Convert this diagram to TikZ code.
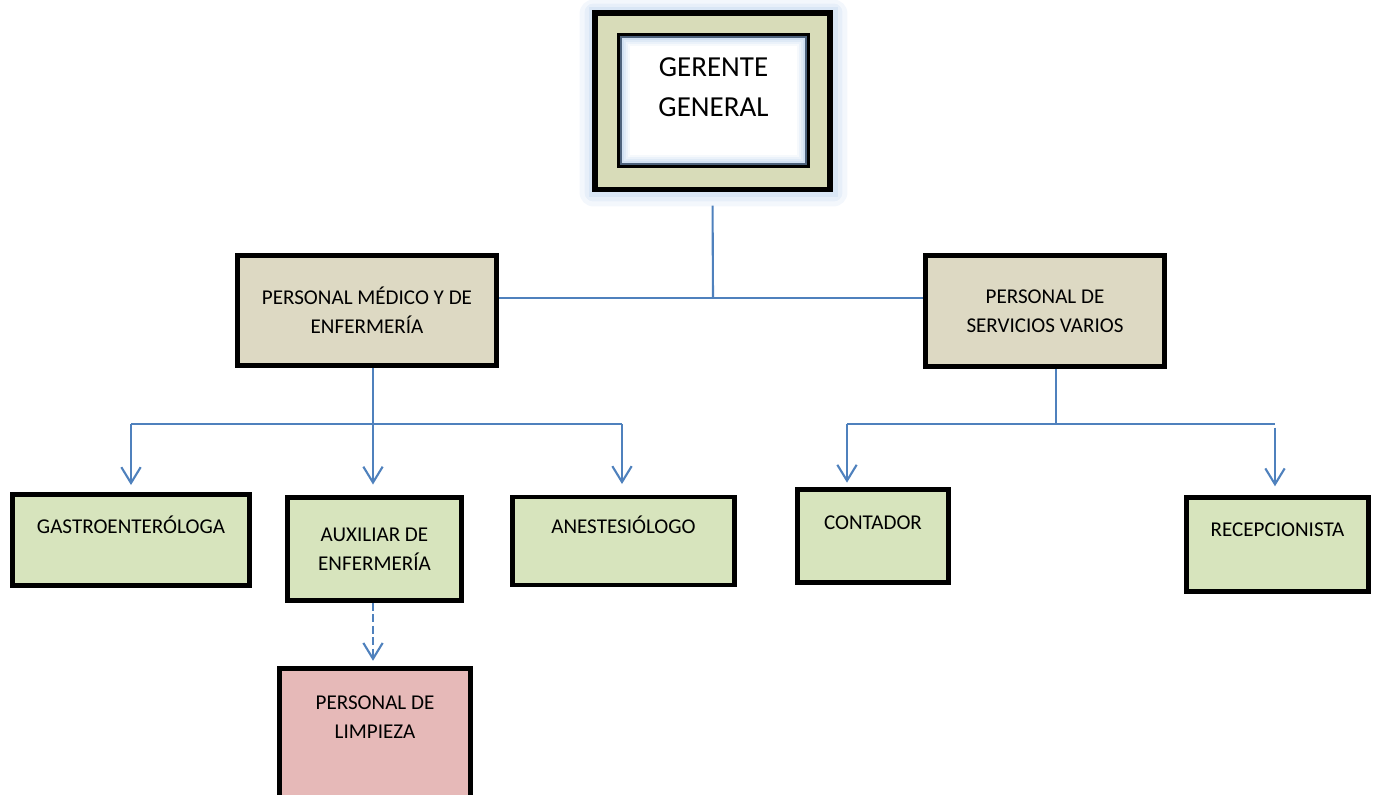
\documentclass[tikz,border=0pt]{standalone}
\usepackage{fontspec}
\setmainfont{Carlito}
\usetikzlibrary{arrows.meta, calc, backgrounds}
\definecolor{orgBlue}{RGB}{79,129,189}
\definecolor{orgBeige}{RGB}{221,217,195}
\definecolor{orgGreen}{RGB}{215,228,189}
\definecolor{orgPink}{RGB}{230,185,184}
\definecolor{orgFrame}{RGB}{216,220,185}
\definecolor{orgGlow}{RGB}{141,180,226}
\tikzset{
  topframe/.style={rectangle, draw=black, fill=orgFrame, line width=3.4pt,
    minimum width=4.72cm, minimum height=3.54cm, inner sep=0pt},
  topbox/.style={rectangle, draw=black, fill=white, line width=2.8pt, align=center,
    font=\fontsize{16.5}{22.7}\selectfont, minimum width=3.76cm, minimum height=2.6cm, inner sep=0pt},
  areabox/.style={rectangle, draw=black, fill=orgBeige, line width=2.8pt, align=center,
    font=\fontsize{12}{16.5}\selectfont, inner sep=0pt},
  rolebox/.style={areabox, fill=orgGreen},
  cleanbox/.style={areabox, fill=orgPink},
  conn/.style={draw=orgBlue, line width=1.2pt},
  arrow/.style={conn, -{Straight Barb[length=9pt, width=11pt]}, shorten >=4pt},
  darrow/.style={arrow, dash pattern=on 4.5pt off 2pt},
  glowline/.style={draw=orgGlow, line width=1.3pt},
}

\begin{document}
\begin{tikzpicture}[x=0.02cm, y=-0.02cm]
\useasboundingbox (0,0) rectangle (1377,795);

%% TOP
\node[topframe] (gerente_frame) at (712.5,101) {};
\node[topbox, text depth=15pt] (gerente) at (713.5,100.5) {GERENTE\\GENERAL};
% soft blue rim inside the white box
\draw[glowline, opacity=0.55] ($(gerente.south west)+(4,-4)$) rectangle ($(gerente.north east)+(-4,4)$);
\draw[glowline, opacity=0.4]  ($(gerente.south west)+(6,-6)$) rectangle ($(gerente.north east)+(-6,6)$);
\draw[glowline, opacity=0.28] ($(gerente.south west)+(8,-8)$) rectangle ($(gerente.north east)+(-8,8)$);
\draw[glowline, opacity=0.17] ($(gerente.south west)+(10,-10)$) rectangle ($(gerente.north east)+(-10,10)$);
\draw[glowline, opacity=0.08] ($(gerente.south west)+(12,-12)$) rectangle ($(gerente.north east)+(-12,12)$);

%% AREAS
\node[areabox, minimum width=5.18cm, minimum height=2.2cm] (medico) at (367,310.5)
  {PERSONAL MÉDICO Y DE\\ENFERMERÍA};
\node[areabox, minimum width=4.78cm, minimum height=2.22cm] (servicios) at (1045,311)
  {PERSONAL DE\\SERVICIOS VARIOS};

%% ROLES
\node[rolebox, minimum width=4.74cm, minimum height=1.82cm, text height=8pt, text depth=15pt]
  (gastro) at (131,540) {GASTROENTERÓLOGA};
\node[rolebox, minimum width=3.48cm, minimum height=2.06cm]
  (auxiliar) at (374.5,549) {AUXILIAR DE\\ENFERMERÍA};
\node[rolebox, minimum width=4.44cm, minimum height=1.76cm, text height=8pt, text depth=16.6pt]
  (anest) at (623.5,541) {ANESTESIÓLOGO};
\node[rolebox, minimum width=3.02cm, minimum height=1.86cm, text height=8pt, text depth=15pt]
  (contador) at (873,536) {CONTADOR};
\node[rolebox, minimum width=3.64cm, minimum height=1.88cm, text height=8pt, text depth=16.6pt]
  (recep) at (1277.5,544.5) {RECEPCIONISTA};
\node[cleanbox, minimum width=3.82cm, minimum height=2.78cm, text depth=24pt]
  (limpieza) at (375,738) {PERSONAL DE\\LIMPIEZA};

%% BUS POINTS
\coordinate (bus_top) at (713,298);
\coordinate (bus_med) at (373,424);
\coordinate (bus_med_l) at (131,424);
\coordinate (bus_med_r) at (622,424);
\coordinate (bus_srv) at (1056,424);
\coordinate (bus_srv_l) at (847,424);
\coordinate (bus_srv_r) at (1275,424);

%% CONNECTORS
\draw[conn, shorten <=7.5pt] (gerente_frame.south) -- (bus_top);
\draw[conn] (medico.east |- bus_top) -- (servicios.west |- bus_top);
\draw[conn] (medico.south -| bus_med) -- (bus_med);
\draw[conn] (bus_med_l) -- (bus_med_r);
\draw[arrow] (bus_med_l) -- (gastro.north);
\draw[arrow, shorten >=6pt] (bus_med) -- (bus_med |- auxiliar.north);
\draw[arrow, shorten >=6pt] (bus_med_r) -- (bus_med_r |- anest.north);
\draw[conn] (bus_srv |- servicios.south) -- (bus_srv);
\draw[conn] (bus_srv_l) -- (bus_srv_r);
\draw[arrow, shorten >=2.5pt] (bus_srv_l) -- (bus_srv_l |- contador.north);
\draw[arrow, shorten <=2pt, shorten >=5pt] (bus_srv_r) -- (bus_srv_r |- recep.north);
\draw[darrow, shorten >=3pt] (bus_med |- auxiliar.south) -- (bus_med |- limpieza.north);

%% HALO
\begin{pgfonlayer}{background}
  \fill[orgGlow, opacity=0.1, rounded corners=8pt]
    ($(gerente_frame.south west)+(-12,14)$) rectangle ($(gerente_frame.north east)+(14,-10)$);
  \fill[orgGlow, opacity=0.12, rounded corners=5pt]
    ($(gerente_frame.south west)+(-7,9)$) rectangle ($(gerente_frame.north east)+(9,-6)$);
  \fill[orgGlow, opacity=0.15]
    ($(gerente_frame.south west)+(-3,5)$) rectangle ($(gerente_frame.north east)+(5,-3)$);
\end{pgfonlayer}

\end{tikzpicture}
\end{document}
